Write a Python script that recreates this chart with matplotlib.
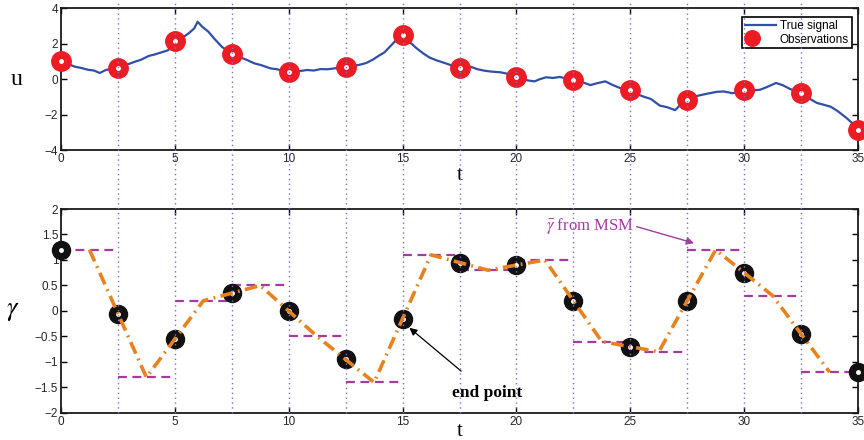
import numpy as np
import matplotlib
matplotlib.use('Agg')
from matplotlib import pyplot as plt
from matplotlib.lines import Line2D
from matplotlib.legend_handler import HandlerTuple
import matplotlib.transforms as mtransforms

plt.rcParams['font.family'] = ['Liberation Sans', 'DejaVu Sans']
plt.rcParams['mathtext.fontset'] = 'stix'

# true signal
sig_t = [0.0, 0.3, 0.6, 0.9, 1.2, 1.45, 1.7, 1.95, 2.2, 2.5, 2.8, 3.0, 3.25, 3.5, 3.85,
         4.1, 4.4, 4.7, 5.0, 5.3, 5.6, 5.85, 6.0, 6.2, 6.47, 6.75, 7.06, 7.3, 7.5, 7.8,
         8.1, 8.5, 8.8, 9.2, 9.5, 9.75, 10.0, 10.3, 10.5, 10.8, 11.1, 11.4, 11.7, 12.0,
         12.5, 12.8, 13.1, 13.4, 13.7, 14.0, 14.2, 14.5, 14.75, 15.0, 15.3, 15.6, 15.9,
         16.2, 16.5, 16.9, 17.2, 17.5, 17.75, 18.0, 18.3, 18.6, 18.9, 19.3, 19.6, 20.0,
         20.3, 20.5, 20.8, 21.0, 21.3, 21.6, 21.9, 22.2, 22.5, 22.9, 23.25, 23.5, 23.9,
         24.2, 24.5, 25.0, 25.3, 25.6, 25.9, 26.3, 26.6, 26.97, 27.2, 27.5, 27.8, 28.1,
         28.4, 28.8, 29.1, 29.5, 29.8, 30.0, 30.35, 30.7, 31.0, 31.4, 31.7, 32.0, 32.5,
         32.8, 33.2, 33.5, 33.8, 34.1, 34.5, 34.8, 35.0]
sig_u = [0.98, 0.85, 0.70, 0.62, 0.52, 0.48, 0.34, 0.50, 0.58, 0.64, 0.80, 0.86, 0.98,
         1.08, 1.30, 1.38, 1.50, 1.62, 2.10, 2.30, 2.57, 2.85, 3.23, 2.95, 2.67, 2.25,
         1.82, 1.60, 1.45, 1.25, 1.11, 0.88, 0.78, 0.60, 0.55, 0.45, 0.38, 0.42, 0.45,
         0.51, 0.48, 0.56, 0.55, 0.60, 0.66, 0.74, 0.80, 0.90, 1.10, 1.35, 1.50, 1.90,
         2.24, 2.50, 2.10, 1.75, 1.45, 1.20, 1.05, 0.88, 0.75, 0.60, 0.62, 0.69, 0.55,
         0.47, 0.42, 0.38, 0.30, 0.10, 0.02, -0.08, -0.13, -0.02, 0.10, 0.06, 0.12, 0.02,
         -0.07, -0.18, -0.34, -0.25, -0.13, -0.32, -0.48, -0.68, -0.85, -1.00, -1.12,
         -1.50, -1.58, -1.75, -1.45, -1.18, -1.00, -0.90, -0.82, -0.72, -0.70, -0.80,
         -0.70, -0.62, -0.65, -0.60, -0.45, -0.22, -0.35, -0.55, -0.80, -1.05, -1.35,
         -1.45, -1.56, -1.80, -2.20, -2.55, -2.87]

obs_t = [0, 2.5, 5, 7.5, 10, 12.5, 15, 17.5, 20, 22.5, 25, 27.5, 30, 32.5, 35]
obs_u = [1.0, 0.62, 2.12, 1.42, 0.4, 0.68, 2.5, 0.62, 0.12, -0.05, -0.64, -1.18, -0.62, -0.8, -2.87]

gamma_obs = [1.2, -0.05, -0.55, 0.35, 0.0, -0.95, -0.15, 0.95, 0.9, 0.2, -0.7, 0.2, 0.75, -0.45, -1.2]

msm_left = [0, 2.5, 5, 7.5, 10, 12.5, 15, 17.5, 20, 22.5, 25, 27.5, 30, 32.5]
msm_val = [1.2, -1.3, 0.2, 0.5, -0.5, -1.4, 1.1, 0.8, 1.0, -0.6, -0.8, 1.2, 0.3, -1.2]

interp_t = [1.25, 3.75, 6.25, 8.75, 11.25, 13.75, 16.25, 18.75, 21.25, 23.75, 26.25, 28.75, 31.25, 33.75]
interp_g = [1.2, -1.3, 0.2, 0.5, -0.5, -1.4, 1.1, 0.8, 1.0, -0.6, -0.8, 1.2, 0.3, -1.2]

grid_t = [2.5, 5, 7.5, 10, 12.5, 15, 17.5, 20, 22.5, 25, 27.5, 30, 32.5]

BLUE = '#2f4fa8'
RED = '#ec1c24'
PURPLE = '#a53aa0'
ORANGE = '#e8821e'
GRID = '#7d70cc'

fig = plt.figure(figsize=(8.64, 4.4), dpi=100)
ax1 = fig.add_axes([0.0706, 0.659, 0.9225, 0.3227])
ax2 = fig.add_axes([0.0706, 0.0614, 0.9225, 0.4636])

for ax in (ax1, ax2):
    ax.set_xlim(0, 35)
    ax.set_xticks(range(0, 36, 5))
    ax.tick_params(direction='in', top=True, right=True, length=4, width=1,
                   labelsize=8.5, labelcolor='#262626', pad=2)
    for s in ax.spines.values():
        s.set_linewidth(1.3)
        s.set_color('#1a1a1a')

# top panel
line, = ax1.plot(sig_t, sig_u, color=BLUE, lw=1.6, zorder=3)
obs, = ax1.plot(obs_t, obs_u, 'o', ms=14, color=RED, mec=RED, zorder=4, clip_on=False)
ctr, = ax1.plot(obs_t, obs_u, 'o', ms=2.5, color='white', mec='white', zorder=5, clip_on=False)
ax1.set_ylim(-4, 4)
ax1.set_yticks([-4, -2, 0, 2, 4])
ax1.set_xlabel('t', family='Liberation Serif', fontsize=15, labelpad=1)
ax1.set_ylabel('u', family='Liberation Serif', fontsize=17, rotation=0, labelpad=20, va='center')
leg = ax1.legend([line, (obs, ctr)], ['True signal', 'Observations'],
                 handler_map={tuple: HandlerTuple(ndivide=None)}, loc='upper right',
                 fontsize=8.5, fancybox=False, framealpha=1, edgecolor='black',
                 borderpad=0.25, labelspacing=0.15, handlelength=2.6, handletextpad=0.3,
                 markerscale=0.8, bbox_to_anchor=(0.9995, 0.98))
leg.get_frame().set_linewidth(1.2)
leg.set_zorder(10)

# bottom panel
ax2.hlines(msm_val, msm_left, [x + 2.5 for x in msm_left], colors=PURPLE,
           linestyles=(0, (4, 2.5)), lw=1.6, zorder=3)
ax2.plot(obs_t, gamma_obs, 'o', ms=13, color='#111111', zorder=4, clip_on=False)
ax2.plot(obs_t, gamma_obs, 'o', ms=2.5, color='white', mec='white', zorder=4.5, clip_on=False)
ax2.plot(interp_t, interp_g, color=ORANGE, lw=2.6, ls=(0, (3.5, 1.5, 0.5, 1.5)), zorder=5)
ax2.set_ylim(-2, 2)
ax2.set_yticks(np.arange(-2, 2.01, 0.5))
ax2.set_yticklabels(['\u22122', '\u22121.5', '\u22121', '\u22120.5', '0', '0.5', '1', '1.5', '2'])
ax2.set_xlabel('t', family='Liberation Serif', fontsize=15, labelpad=-4)
ax2.set_ylabel(r'$\gamma$', fontsize=19, rotation=0, labelpad=16, va='center')

ax2.annotate('end point', xy=(15.3, -0.33), xytext=(18.7, -1.6),
             ha='center', va='center', fontsize=12.5, fontweight='bold',
             family='Liberation Serif',
             arrowprops=dict(arrowstyle='-|>', color='black', lw=0.9,
                             shrinkA=12, shrinkB=0, mutation_scale=11))
ax2.annotate(r'$\bar{\gamma}$ from MSM', xy=(27.8, 1.33), xytext=(21.3, 1.67),
             ha='left', va='center', fontsize=12, color=PURPLE,
             family='Liberation Serif',
             arrowprops=dict(arrowstyle='-|>', color=PURPLE, lw=1.0,
                             shrinkA=0, shrinkB=0, mutation_scale=11,
                             relpos=(1.0, 0.5)))

# vertical dotted lines spanning both panels
trans = mtransforms.blended_transform_factory(ax2.transData, fig.transFigure)
y_bot = ax2.get_position().y0
for t in grid_t:
    fig.add_artist(Line2D([t, t], [y_bot, 1.0], transform=trans, color=GRID,
                          ls=(0, (1, 2.5)), lw=1.0, zorder=1))

fig.savefig('out.png', dpi=100)
